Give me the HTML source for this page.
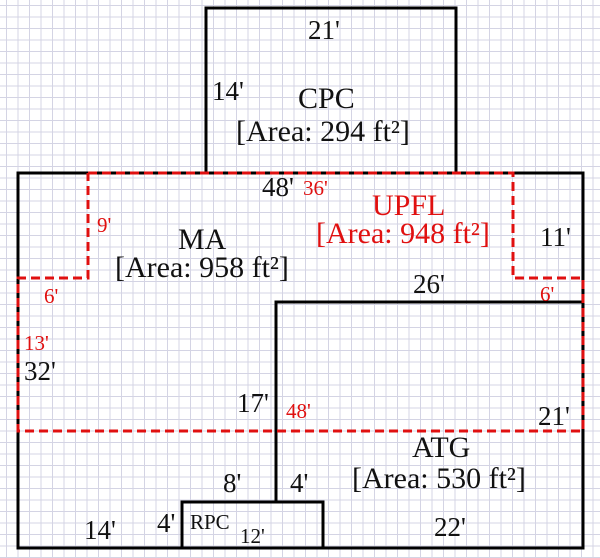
<!DOCTYPE html>
<html><head><style>
body{margin:0;width:600px;height:558px;overflow:hidden;background:#fff;
background-image:linear-gradient(#d4d4e4 1px,transparent 1px),linear-gradient(90deg,#d4d4e4 1px,transparent 1px);
background-size:11.5px 11.5px;background-position:6px 5px;}
svg{position:absolute;left:0;top:0}
text{font-family:"Liberation Serif",serif;font-size:30px;fill:#111}
.r{fill:#e01010}
.s{font-size:21px}
.t{font-size:21px}
</style></head><body>
<svg width="600" height="558">
<g fill="none" stroke="#000" stroke-width="3">
<polyline points="206,173 206,8 456,8 456,173"/>
<rect x="18" y="173" width="565" height="375"/>
<polyline points="276,502 276,302 583,302"/>
<polyline points="182,548 182,502 323,502 323,548"/>
</g>
<polyline fill="none" stroke="#e01010" stroke-width="3" stroke-dasharray="9,5" points="88,173 513,173 513,278 583,278 583,431 18,431 18,278 88,278 88,173"/>
<text x="308" y="39" style="font-size:27px">21'</text>
<text x="212" y="100" style="font-size:27px">14'</text>
<text x="298" y="108">CPC</text>
<text x="236" y="141">[Area: 294 ft²]</text>
<text x="262" y="196" style="font-size:27px">48'</text>
<text x="303" y="195" class="r s">36'</text>
<text x="372" y="215" class="r">UPFL</text>
<text x="316" y="243" class="r">[Area: 948 ft²]</text>
<text x="97" y="232" class="r s">9'</text>
<text x="178" y="249">MA</text>
<text x="115" y="277">[Area: 958 ft²]</text>
<text x="540" y="246" style="font-size:27px">11'</text>
<text x="413" y="293" style="font-size:27px">26'</text>
<text x="44" y="303" class="r s">6'</text>
<text x="540" y="301" class="r s">6'</text>
<text x="24" y="350" class="r s">13'</text>
<text x="24" y="380" style="font-size:27px">32'</text>
<text x="237" y="412" style="font-size:27px">17'</text>
<text x="286" y="418" class="r s">48'</text>
<text x="538" y="425" style="font-size:27px">21'</text>
<text x="412" y="457">ATG</text>
<text x="352" y="488">[Area: 530 ft²]</text>
<text x="223" y="492" style="font-size:27px">8'</text>
<text x="290" y="492" style="font-size:27px">4'</text>
<text x="84" y="539" style="font-size:27px">14'</text>
<text x="157" y="532" style="font-size:27px">4'</text>
<text x="190" y="529" class="t">RPC</text>
<text x="240" y="543" class="t">12'</text>
<text x="434" y="536" style="font-size:27px">22'</text>
</svg>
</body></html>
